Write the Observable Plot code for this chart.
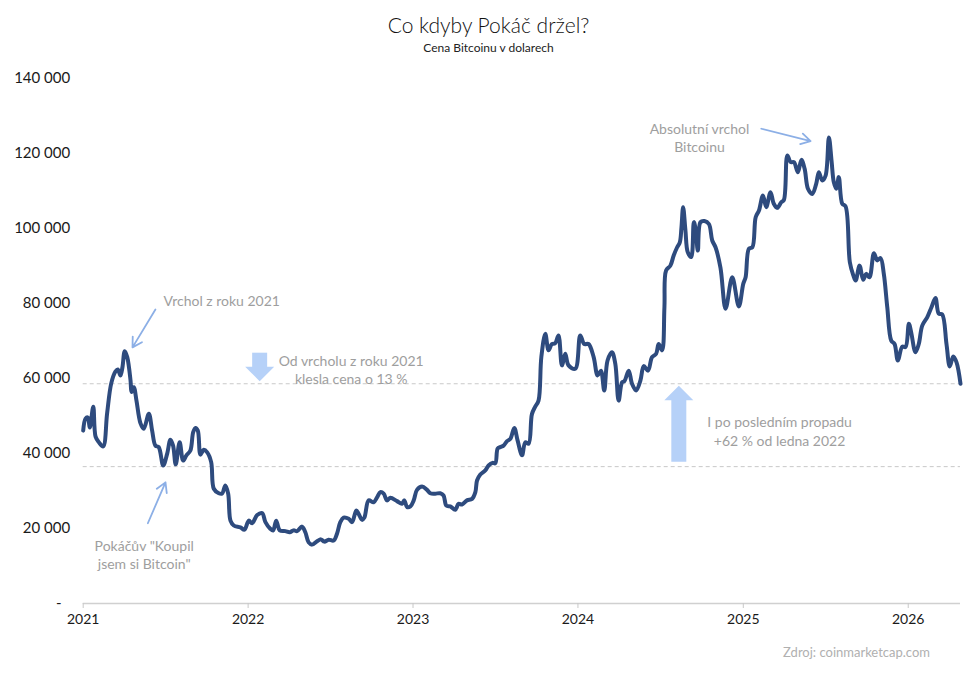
<!DOCTYPE html>
<html lang="cs">
<head>
<meta charset="utf-8">
<script src="https://cdn.jsdelivr.net/npm/d3@7"></script>
<script src="https://cdn.jsdelivr.net/npm/@observablehq/plot@0.6"></script>
<style>
  html, body { margin: 0; padding: 0; background: #fff; }
  #wrap { position: relative; width: 977px; height: 682px; font-family: Lato, "Noto Sans", sans-serif; color: #1a1a1a; }
  #title { position: absolute; top: 11px; left: 0; width: 977px; text-align: center; font-size: 21px; line-height: 28px; font-weight: 300; color: #111; }
  #subtitle { position: absolute; top: 40px; left: 0; width: 977px; text-align: center; font-size: 12px; line-height: 16px; color: #222; }
  #chart { position: absolute; top: 60px; left: 0; }
  #caption { position: absolute; top: 643px; right: 47px; font-size: 13px; line-height: 18px; color: #b0b0b0; }
</style>
</head>
<body>
<div id="wrap">
  <div id="title">Co kdyby Pokáč držel?</div>
  <div id="subtitle">Cena Bitcoinu v dolarech</div>
  <div id="chart"></div>
  <div id="caption">Zdroj: coinmarketcap.com</div>
</div>
<script>
// ---- Data (decimal year, price in USD) ----
const decimalYears = [
  2021.000, 2021.014, 2021.028, 2021.040, 2021.061, 2021.075, 2021.095, 2021.121, 2021.145, 2021.170,
  2021.196, 2021.210, 2021.226, 2021.238, 2021.252, 2021.267, 2021.287, 2021.293, 2021.307, 2021.323,
  2021.347, 2021.367, 2021.398, 2021.418, 2021.438, 2021.458, 2021.485, 2021.509, 2021.529, 2021.545,
  2021.561, 2021.585, 2021.606, 2021.626, 2021.650, 2021.667, 2021.681, 2021.695, 2021.711, 2021.731,
  2021.752, 2021.776, 2021.792, 2021.822, 2021.842, 2021.862, 2021.879, 2021.893, 2021.913, 2021.953,
  2021.978, 2022.004, 2022.024, 2022.055, 2022.085, 2022.105, 2022.135, 2022.152, 2022.170, 2022.192,
  2022.226, 2022.252, 2022.276, 2022.297, 2022.327, 2022.347, 2022.367, 2022.388, 2022.418, 2022.442,
  2022.462, 2022.488, 2022.519, 2022.539, 2022.559, 2022.579, 2022.610, 2022.630, 2022.656, 2022.670,
  2022.691, 2022.705, 2022.731, 2022.761, 2022.782, 2022.802, 2022.822, 2022.842, 2022.862, 2022.903,
  2022.933, 2022.947, 2022.964, 2022.984, 2023.004, 2023.024, 2023.055, 2023.085, 2023.105, 2023.135,
  2023.165, 2023.185, 2023.202, 2023.226, 2023.256, 2023.276, 2023.297, 2023.327, 2023.358, 2023.378,
  2023.388, 2023.408, 2023.438, 2023.458, 2023.482, 2023.499, 2023.513, 2023.529, 2023.549, 2023.570,
  2023.590, 2023.614, 2023.634, 2023.661, 2023.681, 2023.701, 2023.721, 2023.741, 2023.761, 2023.778,
  2023.802, 2023.822, 2023.842, 2023.862, 2023.882, 2023.903, 2023.923, 2023.943, 2023.984, 2024.014,
  2024.038, 2024.064, 2024.095, 2024.119, 2024.139, 2024.159, 2024.179, 2024.206, 2024.226, 2024.246,
  2024.267, 2024.281, 2024.307, 2024.327, 2024.352, 2024.378, 2024.398, 2024.424, 2024.448, 2024.473,
  2024.488, 2024.509, 2024.523, 2024.533, 2024.559, 2024.579, 2024.600, 2024.616, 2024.626, 2024.636,
  2024.650, 2024.664, 2024.685, 2024.701, 2024.711, 2024.725, 2024.741, 2024.765, 2024.792, 2024.812,
  2024.832, 2024.862, 2024.893, 2024.933, 2024.973, 2025.000, 2025.014, 2025.034, 2025.055, 2025.075,
  2025.095, 2025.119, 2025.139, 2025.165, 2025.185, 2025.206, 2025.230, 2025.246, 2025.267, 2025.287,
  2025.307, 2025.331, 2025.352, 2025.372, 2025.392, 2025.418, 2025.442, 2025.458, 2025.479, 2025.499,
  2025.519, 2025.535, 2025.549, 2025.564, 2025.579, 2025.600, 2025.620, 2025.646, 2025.667, 2025.681,
  2025.705, 2025.727, 2025.745, 2025.765, 2025.792, 2025.812, 2025.832, 2025.852, 2025.873, 2025.897,
  2025.917, 2025.937, 2025.964, 2025.984, 2026.004, 2026.018, 2026.044, 2026.064, 2026.085, 2026.115,
  2026.141, 2026.165, 2026.185, 2026.206, 2026.232, 2026.252, 2026.273, 2026.293, 2026.317
];
const prices = [
  46100, 49300, 49600, 46900, 52500, 44500, 43000, 41900, 50700, 58700,
  61900, 62400, 60800, 63000, 67300, 65700, 59500, 56400, 57700, 54100,
  48100, 46600, 50600, 46100, 42100, 41700, 36800, 39900, 43700, 42100,
  37100, 43000, 38100, 39500, 40800, 45700, 46800, 46100, 39700, 41000,
  40300, 37700, 30600, 29400, 29300, 31500, 29300, 22100, 20800, 20300,
  19700, 22100, 21400, 23600, 24100, 21700, 19900, 19500, 22100, 19500,
  19300, 19000, 19500, 19300, 20500, 19000, 16300, 15700, 16600, 17100,
  16500, 17000, 16800, 18600, 21700, 22900, 22600, 21700, 24800, 23900,
  22300, 22900, 27500, 27000, 28300, 29700, 29300, 27500, 28200, 27300,
  26600, 27500, 25700, 25900, 27500, 30300, 31200, 30300, 29400, 29300,
  29400, 28800, 26100, 25900, 25000, 26600, 26400, 27500, 27900, 29700,
  32800, 34400, 35500, 36800, 37500, 37400, 41300, 41700, 42100, 43300,
  43900, 46800, 43500, 39500, 43000, 42600, 50500, 52500, 54100, 65700,
  71900, 67500, 69200, 69400, 71500, 63500, 66600, 63500, 62600, 71500,
  69200, 69200, 65700, 60800, 62100, 56800, 64800, 67000, 63900, 54100,
  59000, 59300, 62100, 58600, 56800, 59500, 63300, 62100, 65700, 66600,
  69200, 67500, 79000, 88800, 90100, 92800, 95000, 96300, 100300, 105700,
  99500, 93700, 92400, 101700, 100000, 94100, 101700, 102000, 101200, 96800,
  95000, 89500, 78600, 87000, 79200, 85300, 87000, 94600, 95000, 103000,
  104800, 108800, 105700, 109700, 106600, 105500, 107000, 107600, 119500, 117700,
  117700, 115000, 118300, 115900, 110600, 109200, 111900, 115000, 112800, 114100,
  124300, 118100, 112300, 110600, 113700, 106600, 105900, 91000, 87500, 86100,
  90100, 86300, 87900, 87000, 93400, 91500, 92100, 87900, 79000, 70100,
  69200, 64800, 68500, 68400, 74600, 72300, 67000, 69200, 74100, 76300,
  79000, 81500, 77300, 77100, 69200, 63200, 65900, 64300, 58600
];
const yTicks = [0, 20000, 40000, 60000, 80000, 100000, 120000, 140000];
const xTickYears = [2021, 2022, 2023, 2024, 2025, 2026];
const referenceLevels = [58600, 36500]; // current price, price in January 2022

// ---- helpers ----
function toDate(t) {
  const y = Math.floor(t);
  const s = Date.UTC(y, 0, 1), e = Date.UTC(y + 1, 0, 1);
  return new Date(s + (t - y) * (e - s));
}
const data = decimalYears.map((t, i) => ({date: toDate(t), price: prices[i]}));
const xTicks = xTickYears.map(y => new Date(Date.UTC(y, 0, 1)));
const fmtY = d => d === 0 ? "-\u2007" : d3.format(",")(d).replace(/,/g, "\u00a0");

const annoGray = "#9e9e9e";
const thinBlue = "#8cafe6";
const blockBlue = "#b6d1f8";

// Triangle head with its tip at the anchor point, pointing up
const arrowHead = {
  draw(ctx) {
    ctx.moveTo(0, 0);
    ctx.lineTo(14.5, 14.5);
    ctx.lineTo(-14.5, 14.5);
    ctx.closePath();
  }
};

const plot = Plot.plot({
  width: 977,
  height: 580,
  marginLeft: 82.7,
  marginRight: 17,
  marginTop: 18,
  marginBottom: 37,
  style: {fontFamily: "Lato, 'Noto Sans', sans-serif", background: "#fff", overflow: "visible"},
  x: {type: "utc", domain: [toDate(2021), toDate(2026.317)]},
  y: {domain: [0, 140000]},
  marks: [
    Plot.ruleY(referenceLevels, {stroke: "#c9c9c9", strokeDasharray: "4,3", strokeWidth: 1}),
    Plot.ruleY([0], {stroke: "#d0d0d0", strokeWidth: 1.5}),
    Plot.axisX({ticks: xTicks, tickFormat: "%Y", tickSize: 5, tickPadding: 6, stroke: "#c8c8c8", fill: "#1a1a1a", fontSize: 14, label: null}),
    Plot.axisY({ticks: yTicks, tickFormat: fmtY, tickSize: 0, tickPadding: 13, fill: "#1a1a1a", fontSize: 15, label: null}),
    // block arrows
    Plot.ruleX([{x: toDate(2022.070)}], {x: "x", y1: 66750, y2: 62500, stroke: blockBlue, strokeWidth: 15}),
    Plot.dot([{x: toDate(2022.070)}], {x: "x", y: 59300, symbol: arrowHead, rotate: 180, fill: blockBlue, stroke: "none"}),
    Plot.ruleX([{x: toDate(2024.610)}], {x: "x", y1: 37700, y2: 54700, stroke: blockBlue, strokeWidth: 15}),
    Plot.dot([{x: toDate(2024.610)}], {x: "x", y: 58100, symbol: arrowHead, fill: blockBlue, stroke: "none"}),
    // price line
    Plot.line(data, {x: "date", y: "price", stroke: "#2e4b7e", strokeWidth: 4, curve: "catmull-rom", strokeLinejoin: "round", strokeLinecap: "round"}),
    // thin arrows
    Plot.arrow([{x1: toDate(2021.438), y1: 78400, x2: toDate(2021.299), y2: 68300}], {x1: "x1", y1: "y1", x2: "x2", y2: "y2", stroke: thinBlue, strokeWidth: 1.8, headLength: 9}),
    Plot.arrow([{x1: toDate(2021.392), y1: 21400, x2: toDate(2021.499), y2: 32300}], {x1: "x1", y1: "y1", x2: "x2", y2: "y2", stroke: thinBlue, strokeWidth: 1.8, headLength: 9}),
    Plot.arrow([{x1: toDate(2025.109), y1: 126600, x2: toDate(2025.408), y2: 123300}], {x1: "x1", y1: "y1", x2: "x2", y2: "y2", stroke: thinBlue, strokeWidth: 1.8, headLength: 9}),
    // annotation texts
    Plot.text([{x: toDate(2021.487), y: 80500, t: "Vrchol z roku 2021"}], {x: "x", y: "y", text: "t", textAnchor: "start", fill: annoGray, fontSize: 14}),
    Plot.text([{x: toDate(2021.370), y: 13200, t: "Pokáčův \"Koupil\njsem si Bitcoin\""}], {x: "x", y: "y", text: "t", fill: annoGray, fontSize: 14, lineHeight: 1.33}),
    Plot.text([{x: toDate(2022.625), y: 62500, t: "Od vrcholu z roku 2021\nklesla cena o 13 %"}], {x: "x", y: "y", text: "t", fill: annoGray, fontSize: 14, lineHeight: 1.33}),
    Plot.text([{x: toDate(2025.220), y: 46100, t: "I po posledním propadu\n+62 % od ledna 2022"}], {x: "x", y: "y", text: "t", fill: annoGray, fontSize: 14, lineHeight: 1.33}),
    Plot.text([{x: toDate(2024.735), y: 124400, t: "Absolutní vrchol\nBitcoinu"}], {x: "x", y: "y", text: "t", fill: annoGray, fontSize: 14, lineHeight: 1.33})
  ]
});
document.getElementById("chart").appendChild(plot);
</script>
</body>
</html>
